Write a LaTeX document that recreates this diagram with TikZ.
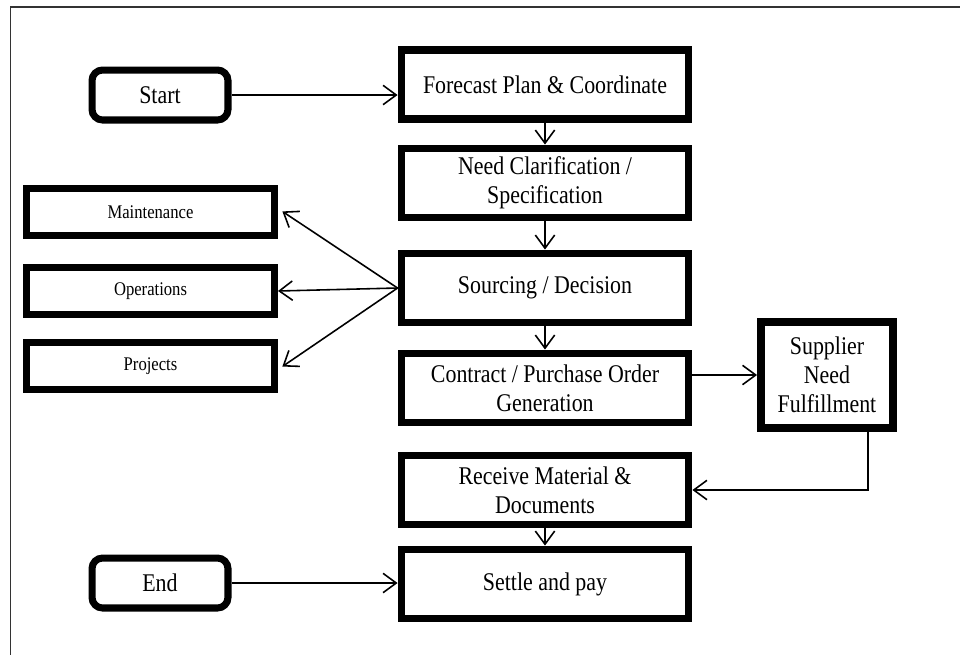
\documentclass[tikz,border=0pt]{standalone}
\usepackage{fontspec}
\setmainfont{Liberation Serif}
\newfontfamily\boxfont[FakeStretch=0.86]{Liberation Serif}
\usetikzlibrary{positioning,arrows.meta}

\begin{document}
\begin{tikzpicture}[x=0.02cm,y=-0.02cm,
    big/.style={draw,line width=4.5pt,minimum width=5.74cm,minimum height=1.38cm,align=center,font=\boxfont\fontsize{14.5}{16.5}\selectfont},
    small/.style={draw,line width=4pt,minimum width=4.96cm,minimum height=0.94cm,font=\boxfont\fontsize{11}{13}\selectfont},
    term/.style={draw,line width=4pt,rounded corners=6pt,minimum width=2.72cm,minimum height=1cm,font=\boxfont\fontsize{14.5}{16.5}\selectfont},
    arr/.style={-{Straight Barb[length=7.5pt,width=11pt]},line width=0.9pt}]
        \useasboundingbox (0,0) rectangle (960,654);
        \draw[line width=0.7pt,black!80] (10.5,660) -- (10.5,7) -- (970,7);
        \node[term] (start) at (160,95) {Start};
        \node[term] (endn) at (160,583) {End};
        \node[big] (fore) at (545,84.5) {Forecast Plan \& Coordinate};
        \node[big] (need) at (545,183) {Need Clarification /\\Specification};
        \node[big] (src) at (545,288) {Sourcing / Decision};
        \node[big] (cont) at (545,388) {Contract / Purchase Order\\Generation};
        \node[big] (recv) at (545,490) {Receive Material \&\\Documents};
        \node[big] (pay) at (545,584) {Settle and pay};
        \node[draw,line width=4.5pt,minimum width=2.64cm,minimum height=2.12cm,align=center,font=\boxfont\fontsize{14.5}{16.5}\selectfont] (supp) at (827,375) {Supplier\\Need\\Fulfillment};
        \node[small] (maint) at (150.5,212) {Maintenance};
        \node[small] (ops) at (150.5,291) {Operations};
        \node[small] (proj) at (150.5,366) {Projects};
        \coordinate (turn) at (868,490);
        \draw[arr] (start.east) -- (start.east -| fore.west);
        \draw[arr] (fore) -- (need);
        \draw[arr] (need) -- (src);
        \draw[arr] (src) -- (cont);
        \draw[arr] (recv) -- (pay);
        \draw[arr] (endn.east) -- (endn.east -| pay.west);
        \draw[arr] (cont.east |- supp.west) -- (supp.west);
        \draw[arr] (supp.south -| turn) |- (recv.east);
        \draw[arr,shorten >=3pt] (src.west) -- ([yshift=2pt]maint.east);
        \draw[arr] (src.west) -- (ops.east);
        \draw[arr,shorten >=3pt] (src.west) -- ([yshift=-2pt]proj.east);
    \end{tikzpicture}
\end{document}
